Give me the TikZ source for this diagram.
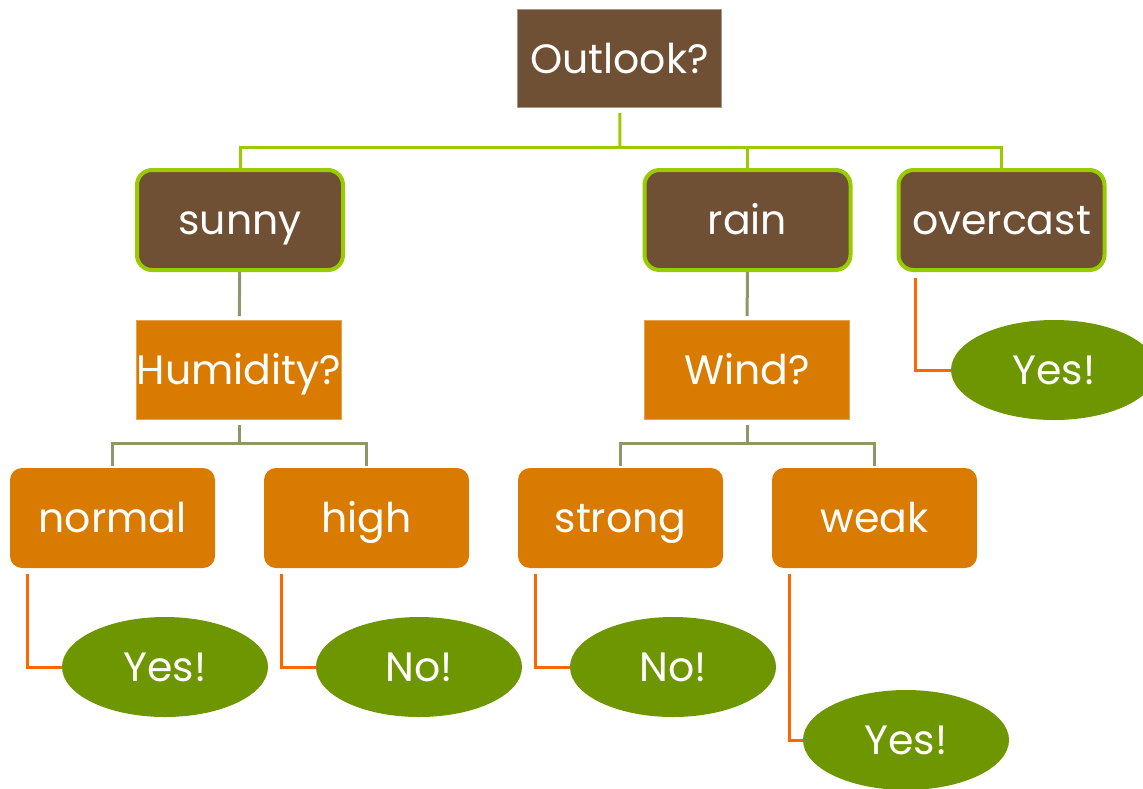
\documentclass[tikz,border=0pt]{standalone}
\usepackage{fontspec}
\setmainfont{Poppins}
\usetikzlibrary{shapes.geometric}

\definecolor{barkbrown}{RGB}{111,80,52}
\definecolor{limeline}{RGB}{153,204,0}
\definecolor{oliveline}{RGB}{143,151,106}
\definecolor{amberbox}{RGB}{217,123,0}
\definecolor{flameline}{RGB}{255,102,0}
\definecolor{leafgreen}{RGB}{110,150,0}

\begin{document}
\begin{tikzpicture}[x=1pt,y=-1pt,
  every node/.style={text=white,inner sep=0pt,text height=29pt,text depth=0pt,
    font=\fontsize{41}{44}\selectfont},
  rootbox/.style={rectangle,fill=barkbrown,draw=barkbrown!60!white,line width=0.8pt,
    minimum width=204pt,minimum height=98pt},
  branchbox/.style={rectangle,rounded corners=15pt,fill=barkbrown,draw=limeline,
    line width=4pt,minimum width=206pt,minimum height=100pt},
  askbox/.style={rectangle,fill=amberbox,draw=amberbox!70!white,line width=0.8pt,
    minimum width=205pt,minimum height=99pt},
  valuebox/.style={rectangle,rounded corners=12pt,fill=amberbox,
    minimum width=205pt,minimum height=100pt},
  answer/.style={ellipse,fill=leafgreen,minimum width=206pt,minimum height=100pt},
  limelink/.style={draw=limeline,line width=3pt},
  olivelink/.style={draw=oliveline,line width=3pt},
  flamelink/.style={draw=flameline,line width=3pt}]
\useasboundingbox (0,0) rectangle (1143,788);

% root
\node[rootbox] (outlook) at (619.5,58.5) {Outlook?};

% first level
\node[branchbox] (sunny) at (240,220) {sunny};
\node[branchbox] (rain) at (747.5,220) {rain};
\node[branchbox] (overcast) at (1001.5,220) {overcast};

% questions
\node[askbox] (humidity) at (239,370) {Humidity?};
\node[askbox] (wind) at (747,370) {Wind?};

% values
\node[valuebox] (normal) at (112.5,518) {normal};
\node[valuebox] (high) at (366.5,518) {high};
\node[valuebox] (strong) at (620.5,518) {strong};
\node[valuebox] (weak) at (874.5,518) {weak};

% answers
\node[answer] (yesnormal) at (165,667) {Yes!};
\node[answer] (nohigh) at (419,667) {No!};
\node[answer] (nostrong) at (673,667) {No!};
\node[answer] (yesweak) at (906,740) {Yes!};
\node[answer] (yesovercast) at (1054,370) {Yes!};

% buses
\coordinate (outbus) at (620,147);
\coordinate (humbus) at (239,443);
\coordinate (windbus) at (747,443);

% green links
\draw[limelink,shorten <=5pt] (outlook) -- (outbus);
\draw[limelink] (outbus) -| (sunny);
\draw[limelink] (outbus) -| (rain);
\draw[limelink] (outbus) -| (overcast);

% olive links
\draw[olivelink,shorten >=4pt] (sunny) -- (humidity);
\draw[olivelink,shorten >=4pt] (rain) -- (wind);
\draw[olivelink,shorten <=5pt] (humidity) -- (humbus);
\draw[olivelink,shorten >=2pt] (humbus) -| (normal);
\draw[olivelink,shorten >=2pt] (humbus) -| (high);
\draw[olivelink,shorten <=5pt] (wind) -- (windbus);
\draw[olivelink,shorten >=2pt] (windbus) -| (strong);
\draw[olivelink,shorten >=2pt] (windbus) -| (weak);

% orange links
\draw[flamelink] ([xshift=18pt,yshift=-6pt]normal.south west) |- (yesnormal.west);
\draw[flamelink] ([xshift=18pt,yshift=-6pt]high.south west) |- (nohigh.west);
\draw[flamelink] ([xshift=18pt,yshift=-6pt]strong.south west) |- (nostrong.west);
\draw[flamelink] ([xshift=18pt,yshift=-6pt]weak.south west) |- (yesweak.west);
\draw[flamelink] ([xshift=19pt,yshift=-6pt]overcast.south west) |- (yesovercast.west);

\end{tikzpicture}
\end{document}
